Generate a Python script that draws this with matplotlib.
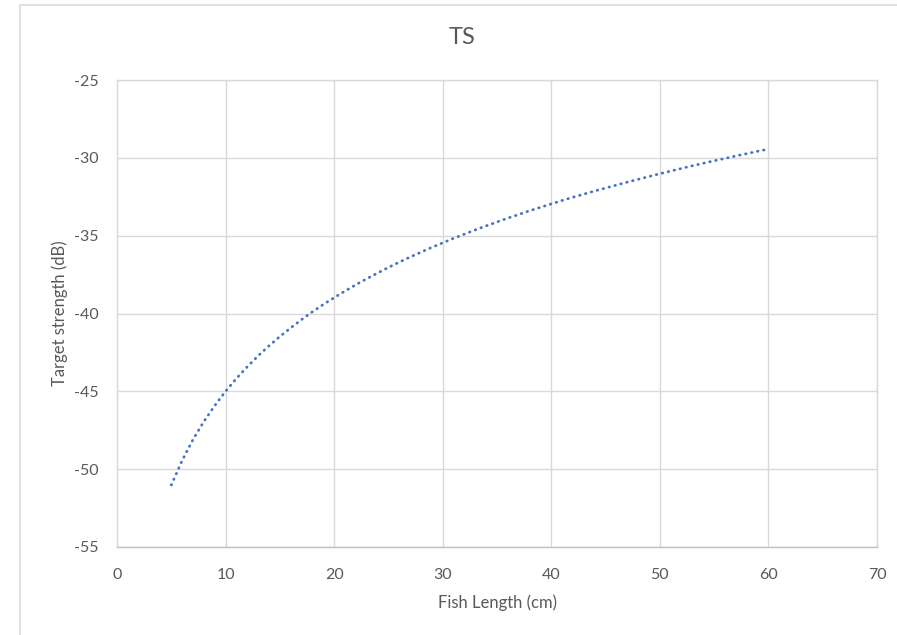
"""TS vs fish length, Excel-style dotted line chart."""

import matplotlib

matplotlib.use("Agg")
import matplotlib.pyplot as plt
from matplotlib.patches import Rectangle

# fish length (cm) and target strength (dB)
length_cm = [5, 6, 7, 8, 9, 10, 11, 12, 13, 14, 15, 16, 17, 18, 19, 20,
             21, 22, 23, 24, 25, 26, 27, 28, 29, 30, 31, 32, 33, 34, 35,
             36, 37, 38, 39, 40, 41, 42, 43, 44, 45, 46, 47, 48, 49, 50,
             51, 52, 53, 54, 55, 56, 57, 58, 59, 60]
ts_db = [-51.02, -49.44, -48.10, -46.94, -45.92, -45.00, -44.17, -43.42,
         -42.72, -42.08, -41.48, -40.92, -40.39, -39.89, -39.42, -38.98,
         -38.56, -38.15, -37.77, -37.40, -37.04, -36.70, -36.37, -36.06,
         -35.75, -35.46, -35.17, -34.90, -34.63, -34.37, -34.12, -33.87,
         -33.64, -33.40, -33.18, -32.96, -32.74, -32.53, -32.33, -32.13,
         -31.94, -31.75, -31.56, -31.38, -31.20, -31.02, -30.85, -30.68,
         -30.51, -30.35, -30.19, -30.04, -29.88, -29.73, -29.58, -29.44]

x_ticks = [0, 10, 20, 30, 40, 50, 60, 70]
y_ticks = [-55, -50, -45, -40, -35, -30, -25]

TEXT = "#595959"
GRID = "#D9D9D9"
BLUE = "#4472C4"

plt.rcParams["font.family"] = ["Lato", "DejaVu Sans"]
plt.rcParams["axes.unicode_minus"] = False

W, H = 897, 635
fig = plt.figure(figsize=(W / 100, H / 100), dpi=100)

# chart area border (runs off the right and bottom edges)
fig.patches.append(Rectangle((20 / W, -0.1), 1.0, 1.1 - 5 / H,
                             transform=fig.transFigure, fill=False,
                             edgecolor=GRID, linewidth=1.2))

ax = fig.add_axes([117 / W, 1 - 547 / H, 760 / W, 467 / H])
ax.plot(length_cm, ts_db, color=BLUE, lw=2.0,
        linestyle=(0, (0.2, 2.0)), dash_capstyle="round")

ax.set_xlim(0, 70)
ax.set_ylim(-55, -25)
ax.set_xticks(x_ticks)
ax.set_yticks(y_ticks)
ax.grid(True, color=GRID, lw=1.0)
ax.set_axisbelow(True)
for name, sp in ax.spines.items():
    sp.set_color(GRID)
    sp.set_linewidth(1.0)
ax.spines["bottom"].set_color("#BFBFBF")
ax.tick_params(length=0, labelsize=11.5, labelcolor=TEXT)
ax.tick_params(axis="x", pad=15)
ax.tick_params(axis="y", pad=13)

fig.text(462 / W, 1 - 38 / H, "TS", ha="center", va="center",
         fontsize=17, color=TEXT)
fig.text(60 / W, 1 - 313 / H, "Target strength (dB)", ha="center",
         va="center", rotation=90, fontsize=12, color=TEXT)
fig.text(497 / W, 1 - 603 / H, "Fish Length (cm)", ha="center",
         va="center", fontsize=12, color=TEXT)

fig.savefig("out.png", dpi=100)
